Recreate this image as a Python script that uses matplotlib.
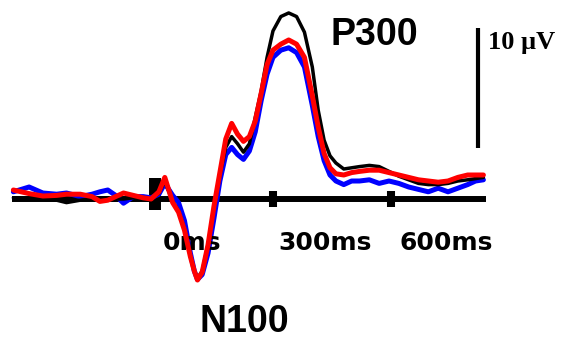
import matplotlib.pyplot as plt

# time axis (ms) shared by the three waveforms
t_ms = [-360, -320, -285, -250, -225, -190, -160, -140, -120, -100, -80, -55, -30, -10,
        10, 25, 45, 60, 75, 90, 100, 108, 120, 135, 150, 165, 180, 195, 210, 225,
        240, 255, 270, 285, 300, 320, 340, 360, 380, 400, 415, 430, 445, 460, 480,
        500, 520, 545, 570, 595, 620, 645, 670, 695, 720, 745, 770, 795, 815, 835]

# amplitudes in microvolts
black_uv = [0.1, 0.0, 0.0, -0.1, -0.3, -0.1, 0.0, 0.0, 0.1, 0.0, 0.0, 0.1, 0.0, 0.0,
            0.5, 1.5, -0.2, -1.0, -2.5, -4.7, -6.0, -6.6, -6.0, -3.8, -0.7, 2.0, 4.3, 5.2, 4.6, 3.9,
            4.6, 6.8, 9.0, 11.8, 14.0, 15.2, 15.5, 15.2, 13.9, 11.0, 7.4, 4.9, 3.6, 3.0, 2.5,
            2.6, 2.7, 2.8, 2.7, 2.3, 1.9, 1.6, 1.3, 1.2, 1.2, 1.3, 1.5, 1.6, 1.7, 1.8]
blue_uv = [0.6, 1.0, 0.5, 0.4, 0.5, 0.2, 0.4, 0.6, 0.75, 0.3, -0.35, 0.2, 0.2, 0.1,
           0.4, 1.3, 0.3, -0.3, -1.8, -4.5, -6.0, -6.7, -6.3, -4.5, -1.6, 1.5, 3.7, 4.3, 3.7, 3.3,
           4.0, 5.6, 8.2, 10.4, 11.8, 12.4, 12.6, 12.2, 11.0, 7.8, 5.2, 3.2, 2.0, 1.5, 1.2,
           1.5, 1.5, 1.6, 1.3, 1.5, 1.3, 1.0, 0.8, 0.6, 0.9, 0.6, 0.9, 1.2, 1.5, 1.6]
red_uv = [0.75, 0.45, 0.25, 0.3, 0.4, 0.4, 0.2, -0.2, -0.1, 0.2, 0.5, 0.3, 0.1, 0.0,
          0.6, 1.8, -0.3, -1.1, -2.6, -4.8, -6.0, -6.75, -6.1, -3.8, -0.6, 2.2, 5.0, 6.3, 5.4, 4.8,
          5.2, 6.5, 8.8, 11.2, 12.4, 12.9, 13.25, 12.9, 11.8, 8.6, 6.0, 3.8, 2.6, 2.1, 2.0,
          2.2, 2.3, 2.4, 2.4, 2.2, 2.0, 1.8, 1.6, 1.5, 1.4, 1.5, 1.8, 2.0, 2.0, 2.0]

tick_ms = [300, 600]
tick_labels = ['0ms', '300ms', '600ms']
label_ms = [94, 432, 740]

fig = plt.figure(figsize=(5.66, 3.41), dpi=100)
ax = fig.add_axes([0, 0, 1, 1])
ax.set_xlim(-394, 1045)
ax.set_ylim(-11.83, 16.58)
ax.axis('off')

# baseline, stimulus marker and ticks
ax.plot([-363, 841], [0, 0], color='black', lw=4.3, solid_capstyle='butt', zorder=1)
ax.plot([0, 0], [-0.9, 1.75], color='black', lw=8.6, solid_capstyle='butt', zorder=1)
for tm in tick_ms:
    ax.plot([tm, tm], [-0.67, 0.67], color='black', lw=5.8, solid_capstyle='butt', zorder=1)

style = dict(solid_joinstyle='round', solid_capstyle='round')
ax.plot(t_ms, blue_uv, color='#0000ff', lw=3.6, zorder=2, **style)
ax.plot(t_ms, black_uv, color='black', lw=2.5, zorder=3, **style)
ax.plot(t_ms, red_uv, color='#ff0000', lw=3.6, zorder=4, **style)

# 10 uV scale bar
ax.plot([821, 821], [4.25, 14.25], color='black', lw=3, solid_capstyle='butt')
ax.text(847, 12.5, '10 µV', fontsize=19, fontweight='bold', family='Liberation Serif',
        va='baseline', ha='left')

for x, s in zip(label_ms, tick_labels):
    ax.text(x, -4.25, s, fontsize=18, fontweight='bold', family='DejaVu Sans',
            va='baseline', ha='center')

ax.text(445, 12.83, 'P300', fontsize=27, fontweight='bold', family='Liberation Sans',
        va='baseline', ha='left')
ax.text(114, -11.08, 'N100', fontsize=27, fontweight='bold', family='Liberation Sans',
        va='baseline', ha='left')

fig.savefig('out.png', dpi=100)
